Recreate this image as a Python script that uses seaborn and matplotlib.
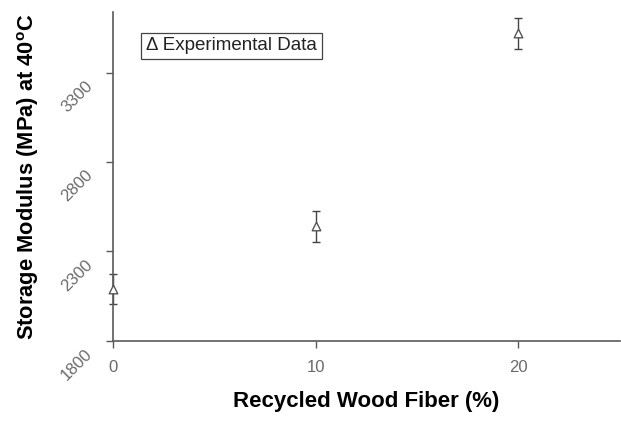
import matplotlib
matplotlib.use("Agg")
import matplotlib.pyplot as plt
import matplotlib.transforms as mtransforms
import seaborn as sns
import pandas as pd

# Storage modulus at 40 °C versus recycled wood fibre content
fiber_pct = [0, 10, 20]
modulus_mpa = [2090, 2440, 3520]
modulus_err = [85, 88, 85]

y_ticks = [1800, 2300, 2800, 3300]
x_ticks = [0, 10, 20]

df = pd.DataFrame({"fiber": fiber_pct, "modulus": modulus_mpa, "err": modulus_err})

sns.set_theme(style="white")
plt.rcParams["font.family"] = ["Liberation Sans", "DejaVu Sans"]

fig = plt.figure(figsize=(6.21, 4.25), dpi=100)
ax = fig.add_axes([0.182, 0.198, 0.816, 0.774])

grey = "#555555"

eb = ax.errorbar(df["fiber"], df["modulus"], yerr=df["err"], fmt="none",
                 ecolor="#444444", elinewidth=1.0, capsize=2.6, capthick=1.0, zorder=2)
for art in eb.lines[1] + eb.lines[2]:
    art.set_clip_on(False)
sns.scatterplot(data=df, x="fiber", y="modulus", marker="^", s=38,
                color="white", edgecolor=grey, linewidth=1.0, zorder=3,
                clip_on=False, ax=ax)

ax.set_xlim(0, 25)
ax.set_ylim(1800, 3640)
ax.set_xticks(x_ticks)
ax.set_yticks(y_ticks)

for side in ("top", "right"):
    ax.spines[side].set_visible(False)
for side in ("left", "bottom"):
    ax.spines[side].set_color("#5a5a5a")
    ax.spines[side].set_linewidth(1.2)

ax.tick_params(axis="both", which="major", direction="out", length=5, width=1.0,
               color="#5a5a5a", labelcolor="#6a6a6a", labelsize=12, left=True, bottom=True)
ax.tick_params(axis="x", pad=9)
ax.tick_params(axis="y", pad=21)

# diagonal y tick labels, shifted below their ticks
shift = mtransforms.ScaledTranslation(0, -24 / 100, fig.dpi_scale_trans)
for lab in ax.get_yticklabels():
    lab.set_rotation(45)
    lab.set_ha("center")
    lab.set_va("center")
    lab.set_rotation_mode("anchor")
    lab.set_transform(lab.get_transform() + shift)

ax.set_xlabel("Recycled Wood Fiber (%)", fontsize=16, fontweight="bold",
              color="black", labelpad=11)
ax.set_ylabel("Storage Modulus (MPa) at 40$^{\\mathregular{o}}$C", fontsize=15.75,
              fontweight="bold", color="black")
ax.yaxis.set_label_coords(-0.143, 0.5)

ax.text(0.065, 0.897, "\u0394 Experimental Data", transform=ax.transAxes,
        fontsize=13.5, color="#222222", ha="left", va="center",
        bbox=dict(boxstyle="square,pad=0.25", facecolor="white",
                  edgecolor="#444444", linewidth=0.9))

fig.savefig("out.png", dpi=100)
